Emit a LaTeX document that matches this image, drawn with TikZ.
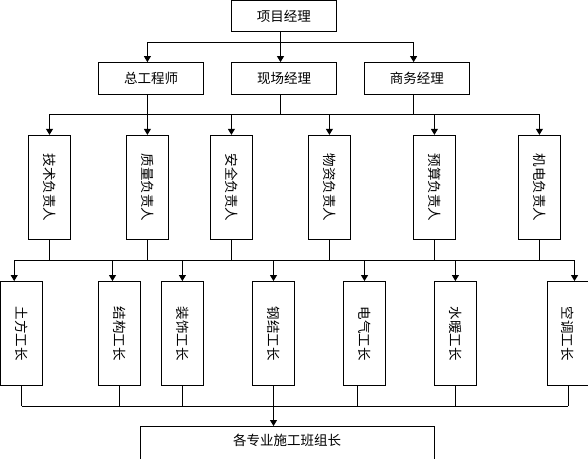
\documentclass[tikz,border=0pt]{standalone}
\usepackage{fontspec}
\setmainfont{Noto Sans CJK SC}
\usetikzlibrary{arrows.meta}
\begin{document}
\begin{tikzpicture}[x=1pt,y=-1pt,
  box/.style={draw, line width=0.9pt, inner sep=0pt, font=\fontsize{13.5pt}{16pt}\selectfont},
  hbox/.style={box, minimum width=105pt, minimum height=31.5pt},
  vbox/.style={box, minimum width=42pt, minimum height=104pt},
  conn/.style={line width=0.9pt},
  arr/.style={conn, -{Triangle[length=6pt,width=7pt]}}]
\useasboundingbox (0,0) rectangle (588,458);
\clip (0,0) rectangle (588,458);
% level 1 and 2
\node[hbox] (pm) at (283.9,16.1) {项目经理};
\node[hbox] (zg) at (151,78.3) {总工程师};
\node[hbox] (xc) at (284,78.3) {现场经理};
\node[hbox] (sw) at (416.8,78.3) {商务经理};
% level 3
\node[vbox] (js) at (49.5,187.3) {\rotatebox{-90}{技术负责人}};
\node[vbox] (zl) at (147.4,187.3) {\rotatebox{-90}{质量负责人}};
\node[vbox] (aq) at (231.4,187.3) {\rotatebox{-90}{安全负责人}};
\node[vbox] (wz) at (329.4,187.3) {\rotatebox{-90}{物资负责人}};
\node[vbox] (ys) at (434.4,187.3) {\rotatebox{-90}{预算负责人}};
\node[vbox] (jd) at (539.4,187.3) {\rotatebox{-90}{机电负责人}};
% level 4
\node[vbox] (tf) at (21.5,333.5) {\rotatebox{-90}{土方工长}};
\node[vbox] (jg) at (119.4,333.5) {\rotatebox{-90}{结构工长}};
\node[vbox] (zs) at (182.4,333.5) {\rotatebox{-90}{装饰工长}};
\node[vbox] (gj) at (273.5,333.5) {\rotatebox{-90}{钢结工长}};
\node[vbox] (dq) at (364.5,333.5) {\rotatebox{-90}{电气工长}};
\node[vbox] (sn) at (455.4,333.5) {\rotatebox{-90}{水暖工长}};
\node[vbox] (kt) at (568,333.5) {\rotatebox{-90}{空调工长}};
% level 5
\node[box, anchor=north, minimum width=294pt, text height=19pt, text depth=41pt, inner ysep=0pt] (bz) at (287.2,426) {各专业施工班组长};
% bar levels
\coordinate (b1) at (0,42.3);
\coordinate (b2) at (0,114);
\coordinate (b3) at (0,260.3);
\coordinate (b4) at (0,406);
% connector points
\coordinate (pmS) at ([xshift=-3.4pt]pm.south);
\coordinate (zgN) at ([xshift=-3.6pt]zg.north);
\coordinate (xcN) at ([xshift=-3.5pt]xc.north);
\coordinate (swN) at ([xshift=-3.2pt]sw.north);
\coordinate (zgS) at ([xshift=-3.6pt]zg.south);
\coordinate (xcS) at ([xshift=-3.5pt]xc.south);
\coordinate (swS) at ([xshift=-3.2pt]sw.south);
\coordinate (tfN) at ([xshift=-7.3pt]tf.north);
\coordinate (jgN) at ([xshift=-6.9pt]jg.north);
\coordinate (ktN) at ([xshift=6.5pt]kt.north);
\coordinate (dqS) at ([xshift=-7.2pt]dq.south);
% level 1 -> 2
\draw[conn] (pmS) -- (pmS |- b1);
\draw[conn] (zgN |- b1) -- (swN |- b1);
\draw[arr] (zgN |- b1) -- (zgN);
\draw[arr] (xcN |- b1) -- (xcN);
\draw[arr] (swN |- b1) -- (swN);
% level 2 -> 3
\draw[conn] (zgS) -- (zgS |- b2);
\draw[conn] (xcS) -- (xcS |- b2);
\draw[conn] (swS) -- (swS |- b2);
\draw[conn] (js.north |- b2) -- (jd.north |- b2);
\foreach \n in {js,zl,aq,wz,ys,jd} \draw[arr] (\n.north |- b2) -- (\n.north);
% level 3 -> 4
\foreach \n in {js,zl,aq,wz,ys,jd} \draw[conn] (\n.south) -- (\n.south |- b3);
\draw[conn] (tfN |- b3) -- (ktN |- b3);
\draw[arr] (tfN |- b3) -- (tfN);
\draw[arr] (jgN |- b3) -- (jgN);
\foreach \n in {zs,gj,dq,sn} \draw[arr] (\n.north |- b3) -- (\n.north);
\draw[arr] (ktN |- b3) -- (ktN);
% level 4 -> 5
\foreach \n in {tf,jg,zs,gj,sn,kt} \draw[conn] (\n.south) -- (\n.south |- b4);
\draw[conn] (dqS) -- (dqS |- b4);
\draw[conn] (tf.south |- b4) -- (kt.south |- b4);
\draw[arr] (gj.south |- b4) -- (gj.south |- bz.north);
\end{tikzpicture}
\end{document}
